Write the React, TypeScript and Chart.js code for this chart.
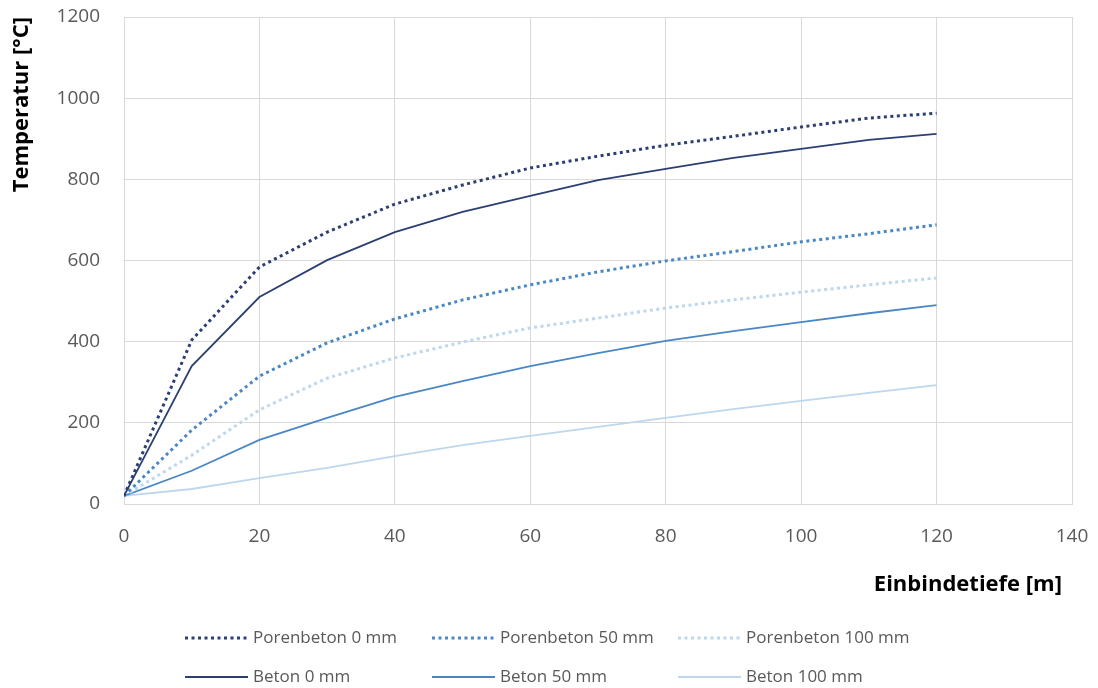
import React, { useEffect, useRef } from "react";
import { Chart, registerables } from "chart.js";

Chart.register(...registerables);

const depths = [0, 10, 20, 30, 40, 50, 60, 70, 80, 90, 100, 110, 120];
const porenbeton0 = [20, 404, 584, 670, 739, 786, 828, 857, 884, 906, 929, 951, 963];
const porenbeton50 = [20, 182, 315, 397, 456, 503, 540, 572, 599, 622, 646, 666, 688];
const porenbeton100 = [20, 120, 232, 310, 360, 399, 434, 458, 483, 503, 522, 540, 557];
const beton0 = [20, 340, 510, 601, 670, 720, 759, 798, 826, 853, 875, 897, 912];
const beton50 = [20, 82, 158, 212, 264, 303, 340, 372, 402, 426, 448, 470, 490];
const beton100 = [20, 37, 64, 89, 118, 145, 168, 190, 212, 234, 254, 274, 293];

const xTitle = "Einbindetiefe [m]";
const yTitle = "Temperatur [°C]";

const DARK = "#2B3F73";
const MID = "#4A87C6";
const LIGHT = "#BDD7EE";
const FONT = "'Open Sans', Lato, sans-serif";

const toPts = (vals: number[]) => vals.map((v, i) => ({ x: depths[i], y: v }));

const legendPlugin = {
  id: "gridLegend",
  afterDraw(chart: any) {
    const ctx = chart.ctx;
    const ds = chart.data.datasets;
    const colX = [185, 432, 678];
    const rowY = [638, 677];
    ctx.save();
    // x axis title
    ctx.font = `bold 22px ${FONT}`;
    ctx.fillStyle = "#000";
    ctx.textAlign = "right";
    ctx.textBaseline = "middle";
    ctx.fillText(xTitle, 1062, 585);
    // legend
    ctx.font = `17px ${FONT}`;
    ctx.textBaseline = "middle";
    ctx.textAlign = "left";
    ds.forEach((d: any, i: number) => {
      const col = i % 3;
      const row = Math.floor(i / 3);
      const x = colX[col];
      const y = rowY[row];
      ctx.beginPath();
      ctx.strokeStyle = d.borderColor;
      ctx.lineWidth = d.borderWidth;
      ctx.setLineDash(d.borderDash || []);
      ctx.moveTo(x, y);
      ctx.lineTo(x + 63, y);
      ctx.stroke();
      ctx.setLineDash([]);
      ctx.fillStyle = "#595959";
      ctx.fillText(d.label, x + 68, y);
    });
    ctx.restore();
  },
};

export default function App() {
  const ref = useRef<HTMLCanvasElement | null>(null);
  useEffect(() => {
    if (!ref.current) return;
    const dots = [3, 3.5];
    const chart = new Chart(ref.current, {
      type: "line",
      data: {
        datasets: [
          { label: "Porenbeton 0 mm", data: toPts(porenbeton0), borderColor: DARK, borderWidth: 3, borderDash: dots },
          { label: "Porenbeton 50 mm", data: toPts(porenbeton50), borderColor: MID, borderWidth: 3, borderDash: dots },
          { label: "Porenbeton 100 mm", data: toPts(porenbeton100), borderColor: LIGHT, borderWidth: 3, borderDash: dots },
          { label: "Beton 0 mm", data: toPts(beton0), borderColor: DARK, borderWidth: 1.8 },
          { label: "Beton 50 mm", data: toPts(beton50), borderColor: MID, borderWidth: 1.8 },
          { label: "Beton 100 mm", data: toPts(beton100), borderColor: LIGHT, borderWidth: 1.8 },
        ] as any,
      },
      options: {
        animation: false,
        responsive: true,
        maintainAspectRatio: false,
        layout: { padding: { top: 17, right: 26, bottom: 88, left: 0 } },
        elements: { point: { radius: 0 }, line: { tension: 0 } },
        plugins: { legend: { display: false }, tooltip: { enabled: false } },
        scales: {
          x: {
            type: "linear",
            min: 0,
            max: 140,
            ticks: { stepSize: 20, color: "#595959", font: { family: FONT, size: 19 }, padding: 0 },
            grid: {
              color: "#D9D9D9",
              lineWidth: 1,
              drawTicks: true,
              tickLength: 21,
              tickColor: "rgba(0,0,0,0)",
            },
            border: { color: "#D9D9D9" },
            title: { display: false },
            afterFit(scale: any) {
              scale.height = 96;
            },
          },
          y: {
            min: 0,
            max: 1200,
            ticks: {
              stepSize: 200,
              color: "#595959",
              font: { family: FONT, size: 19 },
              padding: 0,
              callback: (v: any) => String(v),
            },
            grid: {
              color: "#D9D9D9",
              lineWidth: 1,
              drawTicks: true,
              tickLength: 24,
              tickColor: "rgba(0,0,0,0)",
            },
            border: { color: "#D9D9D9" },
            title: {
              display: true,
              text: yTitle,
              align: "end",
              color: "#000",
              font: { family: FONT, size: 22, weight: "bold" },
              padding: { top: 9, bottom: 0 },
            },
            afterFit(scale: any) {
              scale.width = 124;
            },
          },
        },
      } as any,
      plugins: [legendPlugin],
    });
    return () => chart.destroy();
  }, []);
  return (
    <div style={{ position: "fixed", left: 0, top: 0, width: 1098, height: 688, background: "#fff" }}>
      <canvas ref={ref} />
    </div>
  );
}
